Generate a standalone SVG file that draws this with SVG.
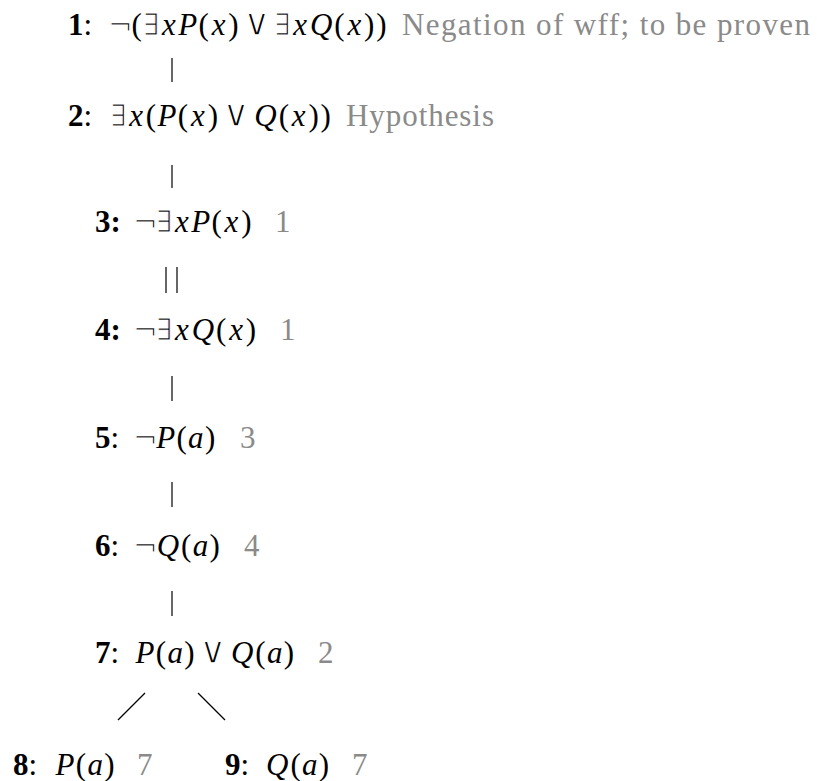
<svg xmlns="http://www.w3.org/2000/svg" width="817" height="781" viewBox="0 0 817 781">
<style>
.t{font-family:"Liberation Serif","DejaVu Serif",serif;font-size:31px;fill:#000}
.f{text-anchor:middle}
.i{font-style:italic}
.b{font-weight:bold}
.g{fill:#8a8a8a}
.m{font-family:"DejaVu Serif",serif;font-size:30px;stroke:#fff;stroke-width:1.1px}
.v{font-family:"DejaVu Serif",serif;font-size:37px;stroke:#fff;stroke-width:1.3px}
.e{stroke:#000;stroke-width:1.2;fill:none}
</style>
<rect width="817" height="781" fill="#fff"/>
<g id="connectors">
<path class="e" d="M172 58V82"/>
<path class="e" d="M172 165V188"/>
<path class="e" d="M166 267V293"/>
<path class="e" d="M177 267V293"/>
<path class="e" d="M172 376V401"/>
<path class="e" d="M172 482V507"/>
<path class="e" d="M172 591V616"/>
<path class="e" d="M145 693L118 720"/>
<path class="e" d="M198 693L225 720"/>
</g>
<g id="n1">
<text class="t" x="68" y="35"><tspan class="b">1</tspan>:</text>
<text class="t f" y="35"><tspan class="m" x="120.3">¬</tspan><tspan x="136.7">(</tspan><tspan class="m" x="151.4">∃</tspan><tspan class="i" x="168.9 187.7">xP</tspan><tspan x="203.6">(</tspan><tspan class="i" x="218.6">x</tspan><tspan x="233.4">)</tspan><tspan class="v" x="256.7">∨</tspan><tspan class="m" x="282.6">∃</tspan><tspan class="i" x="300.1 321.2">xQ</tspan><tspan x="339.4">(</tspan><tspan class="i" x="354.4">x</tspan><tspan x="369.2 381.3">))</tspan></text>
<text class="t g" x="402" y="35" textLength="408" lengthAdjust="spacing">Negation of wff; to be proven</text>
</g>
<g id="n2">
<text class="t" x="68" y="126"><tspan class="b">2</tspan>:</text>
<text class="t f" y="126"><tspan class="m" x="118.6">∃</tspan><tspan class="i" x="136.1">x</tspan><tspan x="151">(</tspan><tspan class="i" x="167">P</tspan><tspan x="183">(</tspan><tspan class="i" x="197.9">x</tspan><tspan x="212.8">)</tspan><tspan class="v" x="236">∨</tspan><tspan class="i" x="265.5">Q</tspan><tspan x="283.8">(</tspan><tspan class="i" x="298.7">x</tspan><tspan x="313.6 325.6">))</tspan></text>
<text class="t g" x="346" y="126" textLength="148" lengthAdjust="spacing">Hypothesis</text>
</g>
<g id="n3">
<text class="t b" x="95" y="232">3:</text>
<text class="t f" y="232"><tspan class="m" x="145.3 164.3">¬∃</tspan><tspan class="i" x="181.8 200.6">xP</tspan><tspan x="216.6">(</tspan><tspan class="i" x="231.5">x</tspan><tspan x="246.4">)</tspan></text>
<text class="t g" x="275" y="232">1</text>
</g>
<g id="n4">
<text class="t b" x="95" y="340">4:</text>
<text class="t f" y="340"><tspan class="m" x="145.3 164.3">¬∃</tspan><tspan class="i" x="181.8 202.9">xQ</tspan><tspan x="221.2">(</tspan><tspan class="i" x="236.1">x</tspan><tspan x="251">)</tspan></text>
<text class="t g" x="280" y="340">1</text>
</g>
<g id="n5">
<text class="t" x="95" y="448"><tspan class="b">5</tspan>:</text>
<text class="t f" y="448"><tspan class="m" x="145.3">¬</tspan><tspan class="i" x="165.6">P</tspan><tspan x="181.6">(</tspan><tspan class="i" x="195.8">a</tspan><tspan x="210.1">)</tspan></text>
<text class="t g" x="240" y="448">3</text>
</g>
<g id="n6">
<text class="t" x="95" y="556"><tspan class="b">6</tspan>:</text>
<text class="t f" y="556"><tspan class="m" x="145.3">¬</tspan><tspan class="i" x="167.9">Q</tspan><tspan x="186.2">(</tspan><tspan class="i" x="200.5">a</tspan><tspan x="214.7">)</tspan></text>
<text class="t g" x="244" y="556">4</text>
</g>
<g id="n7">
<text class="t" x="95" y="663"><tspan class="b">7</tspan>:</text>
<text class="t f" y="663"><tspan class="i" x="145">P</tspan><tspan x="160.9">(</tspan><tspan class="i" x="175.2">a</tspan><tspan x="189.4">)</tspan><tspan class="v" x="212.7">∨</tspan><tspan class="i" x="242.1">Q</tspan><tspan x="260.4">(</tspan><tspan class="i" x="274.7">a</tspan><tspan x="288.9">)</tspan></text>
<text class="t g" x="318" y="663">2</text>
</g>
<g id="n8">
<text class="t" x="13" y="775"><tspan class="b">8</tspan>:</text>
<text class="t f" y="775"><tspan class="i" x="65">P</tspan><tspan x="80.9">(</tspan><tspan class="i" x="95.2">a</tspan><tspan x="109.4">)</tspan></text>
<text class="t g" x="137" y="775">7</text>
</g>
<g id="n9">
<text class="t" x="225" y="775"><tspan class="b">9</tspan>:</text>
<text class="t f" y="775"><tspan class="i" x="277.3">Q</tspan><tspan x="295.6">(</tspan><tspan class="i" x="309.8">a</tspan><tspan x="324">)</tspan></text>
<text class="t g" x="352" y="775">7</text>
</g>
</svg>
